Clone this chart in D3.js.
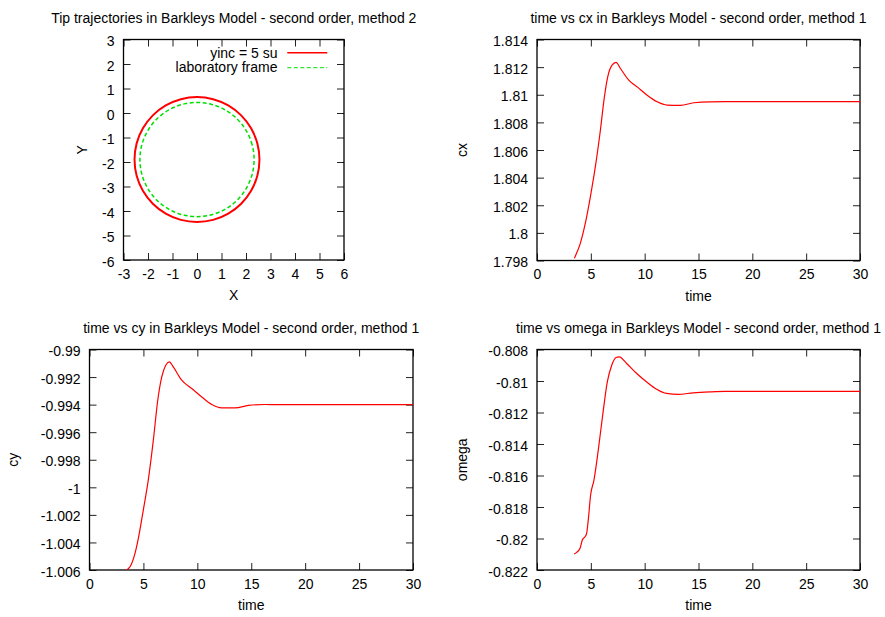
<!DOCTYPE html>
<html>
<head>
<meta charset="utf-8">
<script src="https://cdn.jsdelivr.net/npm/d3@7/dist/d3.min.js"></script>
<style>
  html, body { margin: 0; padding: 0; background: #fff; }
  svg { display: block; font-family: "Liberation Sans", Arial, Helvetica, sans-serif; }
  text { fill: #000; }
</style>
</head>
<body>
<svg id="chart" width="885" height="617"></svg>
<script>
// ---------------- DATA ----------------
// Panel 1: tip trajectories (X, Y)
const redX = [2.55, 2.463, 2.208, 1.803, 1.275, 0.660, 0, -0.660, -1.275, -1.803, -2.208, -2.463,
              -2.55, -2.463, -2.208, -1.803, -1.275, -0.660, 0, 0.660, 1.275, 1.803, 2.208, 2.463];
const redY = [-1.9, -1.240, -0.625, -0.097, 0.308, 0.563, 0.65, 0.563, 0.308, -0.097, -0.625, -1.240,
              -1.9, -2.560, -3.175, -3.703, -4.108, -4.363, -4.45, -4.363, -4.108, -3.703, -3.175, -2.560];
const greenX = [2.33, 2.251, 2.018, 1.648, 1.165, 0.603, 0, -0.603, -1.165, -1.648, -2.018, -2.251,
                -2.33, -2.251, -2.018, -1.648, -1.165, -0.603, 0, 0.603, 1.165, 1.648, 2.018, 2.251];
const greenY = [-1.9, -1.297, -0.735, -0.252, 0.118, 0.351, 0.43, 0.351, 0.118, -0.252, -0.735, -1.297,
                -1.9, -2.503, -3.065, -3.548, -3.918, -4.151, -4.23, -4.151, -3.918, -3.548, -3.065, -2.503];
const legendLabels = ["yinc = 5 su", "laboratory frame"];
const xTicksTraj = [-3, -2, -1, 0, 1, 2, 3, 4, 5, 6];
const yTicksTraj = [-6, -5, -4, -3, -2, -1, 0, 1, 2, 3];

// Panel 2: time vs cx
const cxTime = [3.47, 4.03, 4.49, 4.96, 5.42, 5.89, 6.26, 6.57, 6.97, 7.34, 7.75, 8.52, 9.30, 10.23, 11.16, 12.09, 13.33, 14.56, 16.12, 17.5, 20, 25, 30];
const cxVal  = [1.79817, 1.79926, 1.8007, 1.80263, 1.80479, 1.80745, 1.80985, 1.81130, 1.81214, 1.81234, 1.81190, 1.81106, 1.81057, 1.80997, 1.80949, 1.80925, 1.80923, 1.80942, 1.80949, 1.8095, 1.8095, 1.8095, 1.8095];
const yTicksCx = [1.798, 1.8, 1.802, 1.804, 1.806, 1.808, 1.81, 1.812, 1.814];

// Panel 3: time vs cy
const cyTime = [3.3, 3.5, 3.76, 4.22, 4.53, 4.99, 5.45, 5.92, 6.33, 6.70, 7.07, 7.40, 7.77, 8.55, 9.48, 10.41, 11.34, 12.26, 13.50, 14.73, 16.28, 17.5, 20, 25, 30];
const cyVal  = [-1.0062, -1.00598, -1.00576, -1.00479, -1.00370, -1.00165, -0.99948, -0.99658, -0.99368, -0.99199, -0.99114, -0.99090, -0.99126, -0.99223, -0.99283, -0.99344, -0.99399, -0.99423, -0.99423, -0.99406, -0.99399, -0.9940, -0.9940, -0.9940, -0.9940];
const yTicksCy = [-1.006, -1.004, -1.002, -1, -0.998, -0.996, -0.994, -0.992, -0.99];

// Panel 4: time vs omega
const omTime = [3.46, 3.69, 4.0, 4.21, 4.46, 4.61, 4.76, 4.98, 5.29, 5.69, 6.16, 6.53, 6.94, 7.34, 7.64, 8.33, 9.26, 10.19, 11.11, 12.04, 13.12, 14.51, 16.06, 17.5, 20, 25, 30];
const omVal  = [-0.82099, -0.82088, -0.82062, -0.82010, -0.81989, -0.81967, -0.81883, -0.81724, -0.81629, -0.81439, -0.81185, -0.81006, -0.80900, -0.80851, -0.80847, -0.80889, -0.80952, -0.81006, -0.81052, -0.81079, -0.81085, -0.81075, -0.81069, -0.81066, -0.81066, -0.81066, -0.81066];
const yTicksOm = [-0.822, -0.82, -0.818, -0.816, -0.814, -0.812, -0.81, -0.808];

const timeTicks = [0, 5, 10, 15, 20, 25, 30];

const titles = [
  "Tip trajectories in Barkleys Model - second order, method 2",
  "time vs cx in Barkleys Model - second order, method 1",
  "time vs cy in Barkleys Model - second order, method 1",
  "time vs omega in Barkleys Model - second order, method 1"
];

// ---------------- DRAWING ----------------
const svg = d3.select("#chart");
const fmt = v => String(+v.toFixed(4));
const TICK = 7;

function panel(opts, idx) {
  const { left, right, top, bottom, xDomain, yDomain, xTicks, yTicks, xLabel, yLabel, yLabelX, title } = opts;
  const x = d3.scaleLinear().domain(xDomain).range([left, right]);
  const y = d3.scaleLinear().domain(yDomain).range([bottom, top]);
  const g = svg.append("g");

  const clipId = "clip" + idx;
  svg.append("clipPath").attr("id", clipId)
    .append("rect").attr("x", left).attr("y", top).attr("width", right - left).attr("height", bottom - top);

  // axes (inward ticks, mirrored)
  const axB = g.append("g").attr("transform", `translate(0,${bottom})`)
    .call(d3.axisBottom(x).tickValues(xTicks).tickSizeInner(-TICK).tickSizeOuter(0).tickPadding(9).tickFormat(fmt));
  const axT = g.append("g").attr("transform", `translate(0,${top})`)
    .call(d3.axisTop(x).tickValues(xTicks).tickSizeInner(-TICK).tickSizeOuter(0).tickFormat(""));
  const axL = g.append("g").attr("transform", `translate(${left},0)`)
    .call(d3.axisLeft(y).tickValues(yTicks).tickSizeInner(-TICK).tickSizeOuter(0).tickPadding(9).tickFormat(fmt));
  const axR = g.append("g").attr("transform", `translate(${right},0)`)
    .call(d3.axisRight(y).tickValues(yTicks).tickSizeInner(-TICK).tickSizeOuter(0).tickFormat(""));
  [axB, axT, axL, axR].forEach(a => {
    a.select(".domain").remove();
    a.selectAll("line").attr("stroke", "#222").attr("stroke-width", 1);
    a.selectAll("text").attr("font-size", 14).attr("font-family", "Liberation Sans, Arial, sans-serif").attr("fill", "#000");
  });
  axL.selectAll("text").attr("dy", "0.43em");

  // frame
  g.append("rect").attr("x", left).attr("y", top).attr("width", right - left).attr("height", bottom - top)
    .attr("fill", "none").attr("stroke", "#000").attr("stroke-width", 1.3);

  // title
  g.append("text").attr("x", (left + right) / 2).attr("y", top - 16.5)
    .attr("text-anchor", "middle").attr("font-size", 14).text(title);
  // axis labels
  g.append("text").attr("x", (left + right) / 2).attr("y", bottom + 40)
    .attr("text-anchor", "middle").attr("font-size", 14).text(xLabel);
  g.append("text").attr("transform", `translate(${yLabelX},${(top + bottom) / 2}) rotate(-90)`)
    .attr("text-anchor", "middle").attr("font-size", 14).text(yLabel);

  return { x, y, g, clipId };
}

// Panel 1
{
  const p = panel({ left: 123.5, right: 344, top: 39.5, bottom: 260, xDomain: [-3, 6], yDomain: [-6, 3],
    xTicks: xTicksTraj, yTicks: yTicksTraj, xLabel: "X", yLabel: "Y", yLabelX: 87, title: titles[0] }, 1);
  const line = d3.line().x(d => p.x(d[0])).y(d => p.y(d[1])).curve(d3.curveCatmullRomClosed);
  const red = redX.map((v, i) => [v, redY[i]]);
  const green = greenX.map((v, i) => [v, greenY[i]]);
  p.g.append("path").attr("d", line(red)).attr("fill", "none").attr("stroke", "#ff0000").attr("stroke-width", 2)
    .attr("clip-path", `url(#${p.clipId})`);
  p.g.append("path").attr("d", line(green)).attr("fill", "none").attr("stroke", "#00e000").attr("stroke-width", 1.5)
    .attr("stroke-dasharray", "4,2.5").attr("clip-path", `url(#${p.clipId})`);
  // legend
  const leg = [{ c: "#ff0000", w: 1.5, dash: null, ty: 57.5, ly: 52.7 },
               { c: "#00e000", w: 1, dash: "4,2.5", ty: 72, ly: 67.7 }];
  leg.forEach((l, i) => {
    p.g.append("text").attr("x", 277.5).attr("y", l.ty).attr("text-anchor", "end").attr("font-size", 14).text(legendLabels[i]);
    p.g.append("line").attr("x1", 287.3).attr("x2", 327.3).attr("y1", l.ly).attr("y2", l.ly)
      .attr("stroke", l.c).attr("stroke-width", l.w).attr("stroke-dasharray", l.dash);
  });
}

function timePanel(opts, idx, times, vals) {
  const p = panel(opts, idx);
  const line = d3.line().x((d, i) => p.x(times[i])).y(d => p.y(d)).curve(d3.curveMonotoneX);
  p.g.append("path").attr("d", line(vals)).attr("fill", "none").attr("stroke", "#ff0000").attr("stroke-width", 1.2)
    .attr("clip-path", `url(#${p.clipId})`);
}

timePanel({ left: 537, right: 860, top: 39.5, bottom: 260.5, xDomain: [0, 30], yDomain: [1.798, 1.814],
  xTicks: timeTicks, yTicks: yTicksCx, xLabel: "time", yLabel: "cx", yLabelX: 467, title: titles[1] }, 2, cxTime, cxVal);

timePanel({ left: 89.5, right: 413, top: 349.5, bottom: 570, xDomain: [0, 30], yDomain: [-1.006, -0.99],
  xTicks: timeTicks, yTicks: yTicksCy, xLabel: "time", yLabel: "cy", yLabelX: 17.5, title: titles[2] }, 3, cyTime, cyVal);

timePanel({ left: 537, right: 860, top: 349.5, bottom: 570, xDomain: [0, 30], yDomain: [-0.822, -0.808],
  xTicks: timeTicks, yTicks: yTicksOm, xLabel: "time", yLabel: "omega", yLabelX: 467, title: titles[3] }, 4, omTime, omVal);
</script>
</body>
</html>
